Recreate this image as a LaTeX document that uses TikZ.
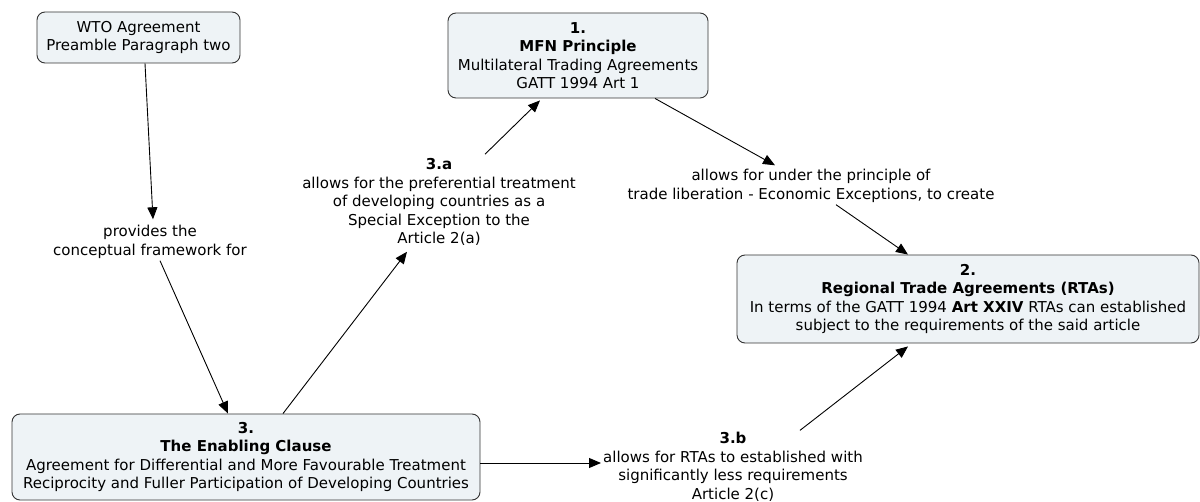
\documentclass[tikz,border=0pt]{standalone}
\usepackage{xcolor}
\usepackage{fontspec}
\setmainfont{DejaVu Sans}
\usepackage{tikz}
\usetikzlibrary{arrows.meta}

\definecolor{boxfill}{HTML}{EEF3F6}
\definecolor{boxline}{HTML}{333333}

\tikzset{
  concept/.style={draw=boxline, fill=boxfill, rounded corners=8pt, line width=0.9pt, align=center, inner sep=0pt},
  linktext/.style={align=center, inner sep=2pt},
  link/.style={-{Triangle[length=12pt,width=10pt]}, line width=0.9pt},
}

\begin{document}
\begin{tikzpicture}[x=1pt,y=-1pt,font=\fontsize{15}{18.5}\selectfont]
			\useasboundingbox (0,0) rectangle (1200,502);
			% % % % % % % % % % % % % % %
			%concept boxes
			\node[concept, minimum width=203pt, minimum height=51pt] (wto) at (138.5,37.5) {WTO Agreement\\Preamble Paragraph two};
			\node[concept, minimum width=260pt, minimum height=85pt] (mfn) at (578,55.5) {\textbf{1.}\\\textbf{MFN Principle}\\Multilateral Trading Agreements\\GATT 1994 Art 1};
			\node[concept, minimum width=462pt, minimum height=88pt] (rta) at (968,299) {\textbf{2.}\\\textbf{Regional Trade Agreements (RTAs)}\\In terms of the GATT 1994 \textbf{Art XXIV} RTAs can established\\subject to the requirements of the said article};
			\node[concept, minimum width=468pt, minimum height=86pt] (enab) at (246,457) {\textbf{3.}\\\textbf{The Enabling Clause}\\Agreement for Differential and More Favourable Treatment\\Reciprocity and Fuller Participation of Developing Countries};
			%link texts
			\node[linktext] (frame) at (150,242) {provides the\\conceptual framework for};
			\node[linktext] (pref) at (439,202) {\textbf{3.a}\\allows for the preferential treatment\\of developing countries as a\\Special Exception to the\\Article 2(a)};
			\node[linktext] (lib) at (811,186) {allows for under the principle of\\trade liberation - Economic Exceptions, to create};
			\node[linktext] (less) at (733,467) {\textbf{3.b}\\allows for RTAs to established with\\significantly less requirements\\Article 2(c)};
			%connectors
			\draw[link] ([xshift=6.5pt]wto.south) -- ([xshift=3pt,yshift=4pt]frame.north);
			\draw[link] ([xshift=10pt]frame.south) -- ([xshift=-18pt]enab.north);
			\draw[link] ([xshift=37pt]enab.north) -- ([xshift=-32pt,yshift=-4pt]pref.south);
			\draw[link] ([xshift=46pt,yshift=2pt]pref.north) -- ([xshift=-38pt,yshift=-2pt]mfn.south);
			\draw[link] ([xshift=77pt]mfn.south) -- ([xshift=-36pt,yshift=2pt]lib.north);
			\draw[link] ([xshift=25pt]lib.south) -- ([xshift=-60pt]rta.north);
			\draw[link] ([yshift=-6pt]enab.east) -- ([yshift=4pt]less.west);
			\draw[link] ([xshift=67pt]less.north) -- ([xshift=-60pt,yshift=-3pt]rta.south);
		\end{tikzpicture}
\end{document}
